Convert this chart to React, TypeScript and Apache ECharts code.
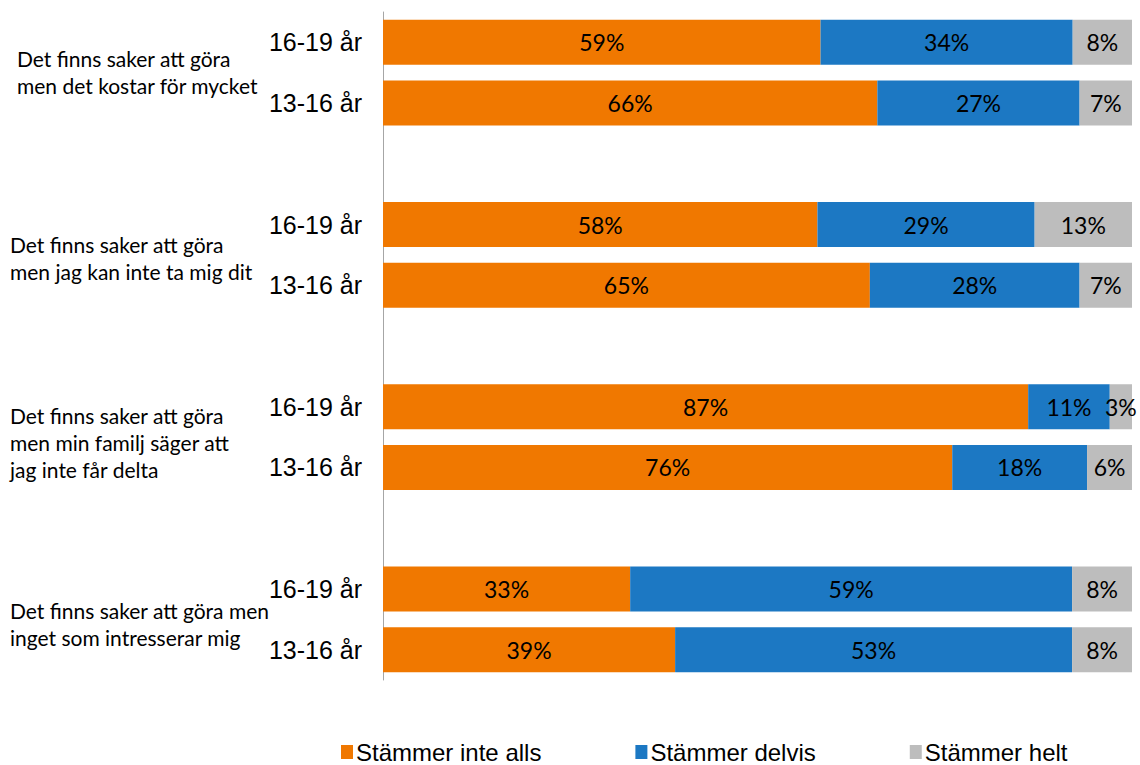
import React, { useEffect, useRef } from "react";
import * as echarts from "echarts";

const categories = ["16-19 år", "13-16 år", "", "16-19 år", "13-16 år", "", "16-19 år", "13-16 år", "", "16-19 år", "13-16 år"];
const seriesNames = ["Stämmer inte alls", "Stämmer delvis", "Stämmer helt"];
const inteAlls = [59, 66, null, 58, 65, null, 87, 76, null, 33, 39];
const delvis = [34, 27, null, 29, 28, null, 11, 18, null, 59, 53];
const helt = [8, 7, null, 13, 7, null, 3, 6, null, 8, 8];
const groupLabels = [
  "Det finns saker att göra\nmen det kostar för mycket",
  "Det finns saker att göra\nmen jag kan inte ta mig dit",
  "Det finns saker att göra\nmen min familj säger att\njag inte får delta",
  "Det finns saker att göra men\ninget som intresserar mig",
];
const colors = ["#F07800", "#1C78C3", "#BDBDBD"];

const labelPos = [
  { x: 17, y: 72 },
  { x: 10, y: 258 },
  { x: 10, y: 442 },
  { x: 10, y: 624 },
];

export default function App() {
  const ref = useRef<HTMLDivElement>(null);
  useEffect(() => {
    if (!ref.current) return;
    const chart = echarts.init(ref.current, null, { renderer: "svg" });
    const raw = [inteAlls, delvis, helt];
    const totals = categories.map((_, i) =>
      raw.reduce((s, arr) => s + (arr[i] == null ? 0 : (arr[i] as number)), 0)
    );
    const series = raw.map((arr, si) => ({
      name: seriesNames[si],
      type: "bar",
      stack: "total",
      barWidth: 45,
      itemStyle: { color: colors[si] },
      label: {
        show: true,
        position: "inside",
        color: "#000",
        fontFamily: "Lato",
        fontSize: 23,
        formatter: (p: any) => (p.data && p.data.raw != null ? p.data.raw + "%" : ""),
      },
      data: arr.map((v, i) =>
        v == null ? { value: null, raw: null } : { value: (v / totals[i]) * 100, raw: v }
      ),
    }));
    chart.setOption({
      animation: false,
      grid: { left: 383, right: 8, top: 12, bottom: 85, containLabel: false },
      xAxis: {
        type: "value",
        min: 0,
        max: 100,
        show: false,
      },
      yAxis: {
        type: "category",
        inverse: true,
        data: categories,
        axisLine: { show: true, lineStyle: { color: "#A6A6A6", width: 1 } },
        axisTick: { show: false },
        axisLabel: {
          color: "#000",
          fontFamily: "Liberation Sans",
          fontSize: 25,
          margin: 21,
        },
      },
      legend: {
        data: seriesNames,
        left: 341,
        top: 740,
        padding: 0,
        icon: "rect",
        itemWidth: 12,
        itemHeight: 14,
        itemGap: 94,
        textStyle: { fontFamily: "Liberation Sans", fontSize: 24, lineHeight: 24, color: "#000", padding: [0, 0, 0, -2] },
      },
      graphic: groupLabels.map((t, i) => ({
        type: "text",
        x: labelPos[i].x,
        y: labelPos[i].y,
        style: {
          text: t,
          fontFamily: "Lato",
          fontSize: 21,
          lineHeight: 27,
          fill: "#000",
          verticalAlign: "middle",
        },
      })),
      series,
    });
    return () => chart.dispose();
  }, []);
  return <div ref={ref} style={{ width: 1140, height: 765, position: "absolute", left: 0, top: 0 }} />;
}
